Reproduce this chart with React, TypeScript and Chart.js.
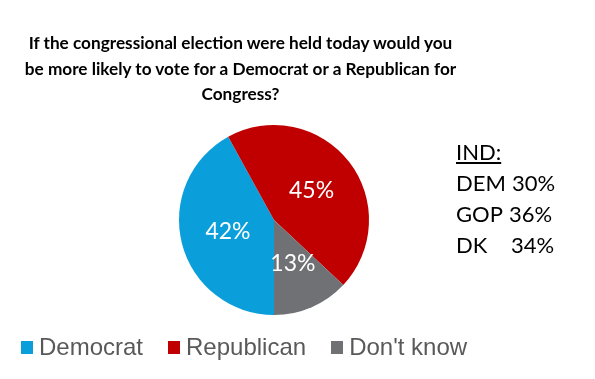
import React, { useEffect, useRef } from "react";
import { Chart, registerables } from "chart.js";

Chart.register(...registerables);

const titleLines = [
  "If the congressional election were held today would you",
  "be more likely to vote for a Democrat or a Republican for",
  "Congress?",
];
const categories = ["Democrat", "Republican", "Don't know"];
const values = [42, 45, 13];
const colors = ["#0A9FDB", "#C00000", "#707175"];
const indHeading = "IND:";
const indLabels = ["DEM", "GOP", "DK"];
const indValues = [30, 36, 34];

const labelPlugin = {
  id: "sliceLabels",
  afterDatasetsDraw(chart: any) {
    const { ctx } = chart;
    const meta = chart.getDatasetMeta(0);
    ctx.save();
    ctx.fillStyle = "#FFFFFF";
    ctx.font = "23px Lato";
    ctx.textAlign = "center";
    ctx.textBaseline = "middle";
    meta.data.forEach((arc: any, i: number) => {
      const p = arc.tooltipPosition();
      ctx.fillText(values[i] + "%", p.x, p.y);
    });
    ctx.restore();
  },
};

export default function App() {
  const ref = useRef<HTMLCanvasElement | null>(null);
  useEffect(() => {
    if (!ref.current) return;
    const chart = new Chart(ref.current, {
      type: "pie",
      data: {
        labels: categories,
        datasets: [
          {
            data: values,
            backgroundColor: colors,
            borderWidth: 0,
          },
        ],
      },
      options: {
        responsive: false,
        animation: false,
        rotation: 180,
        layout: { padding: { top: 125, bottom: 64, left: 179, right: 226 } },
        plugins: {
          legend: { display: false },
          tooltip: { enabled: false },
          title: { display: false },
        },
      },
      plugins: [labelPlugin],
    });
    return () => chart.destroy();
  }, []);

  return (
    <div
      style={{
        position: "fixed",
        left: 0,
        top: 0,
        width: 595,
        height: 379,
        background: "#FFFFFF",
        overflow: "hidden",
      }}
    >
      <canvas ref={ref} width={595} height={379} style={{ position: "absolute", left: 0, top: 0 }} />
      <div
        style={{
          position: "absolute",
          left: 0,
          width: 481,
          top: 30,
          textAlign: "center",
          fontFamily: "Lato",
          fontWeight: 700,
          fontSize: 17.2,
          lineHeight: "25.5px",
          color: "#000000",
        }}
      >
        {titleLines.map((l, i) => (
          <div key={i}>{l}</div>
        ))}
      </div>
      <div
        style={{
          position: "absolute",
          left: 456,
          top: 136,
          fontFamily: "Lato",
          fontSize: 22,
          lineHeight: "31px",
          color: "#000000",
        }}
      >
        <div style={{ textDecoration: "underline" }}>{indHeading}</div>
        {indLabels.map((l, i) => (
          <div key={i} style={{ display: "flex" }}>
            <span style={{ width: l === "DK" ? 55 : undefined, marginRight: l === "DK" ? 0 : 6 }}>{l}</span>
            <span>{indValues[i]}%</span>
          </div>
        ))}
      </div>
      <div
        style={{
          position: "absolute",
          left: 21,
          top: 333,
          display: "flex",
          alignItems: "center",
          fontFamily: "'Liberation Sans', Arial",
          fontSize: 24,
          color: "#595959",
          whiteSpace: "nowrap",
        }}
      >
        {categories.map((c, i) => (
          <div key={i} style={{ display: "flex", alignItems: "center", marginRight: 25 }}>
            <span style={{ width: 12, height: 13, background: colors[i], display: "inline-block", marginRight: 6 }} />
            <span>{c}</span>
          </div>
        ))}
      </div>
    </div>
  );
}
